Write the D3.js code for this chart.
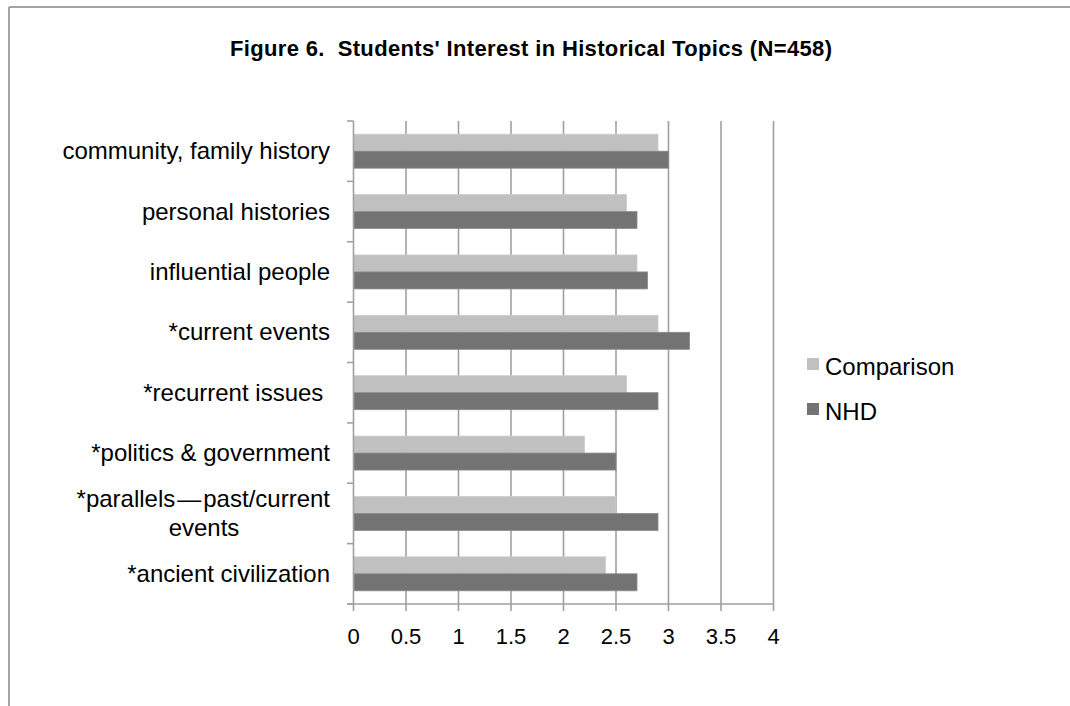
<!DOCTYPE html>
<html>
<head>
<meta charset="utf-8">
<script src="https://cdn.jsdelivr.net/npm/d3@7"></script>
<style>
  html, body { margin: 0; padding: 0; background: #fff; }
  svg { display: block; }
  text { font-family: "Liberation Sans", Arial, Helvetica, sans-serif; fill: #000; }
</style>
</head>
<body>
<svg id="chart" width="1070" height="706"></svg>
<script>
const categories = [
  "community, family history",
  "personal histories",
  "influential people",
  "*current events",
  "*recurrent issues ",
  "*politics & government",
  "*parallels\u200A\u2014\u200Apast/current|events",
  "*ancient civilization"
];
const seriesNames = ["Comparison", "NHD"];
const comparison = [2.9, 2.6, 2.7, 2.9, 2.6, 2.2, 2.5, 2.4];
const nhd = [3.0, 2.7, 2.8, 3.2, 2.9, 2.5, 2.9, 2.7];
const xTicks = [0, 0.5, 1, 1.5, 2, 2.5, 3, 3.5, 4];
const colors = ["#c0c0c0", "#737373"];
const titleText = "Figure 6.  Students' Interest in Historical Topics (N=458)";

const svg = d3.select("#chart");
const W = 1070, H = 706;

// outer frame (top + left)
svg.append("line").attr("x1", 9).attr("x2", W).attr("y1", 7).attr("y2", 7)
  .attr("stroke", "#a3a3a3").attr("stroke-width", 2);
svg.append("line").attr("x1", 9).attr("x2", 9).attr("y1", 7).attr("y2", H)
  .attr("stroke", "#a3a3a3").attr("stroke-width", 2);

// title
svg.append("text").attr("x", 531).attr("y", 56)
  .attr("text-anchor", "middle")
  .style("font-weight", "bold").style("font-size", "22px")
  .style("white-space", "pre")
  .attr("textLength", 602).attr("lengthAdjust", "spacing")
  .text(titleText);

const x = d3.scaleLinear().domain([0, 4]).range([353.5, 773.5]);
const y0 = d3.scaleBand().domain(d3.range(categories.length)).range([121, 604]).paddingInner(0).paddingOuter(0);
const y1 = d3.scaleBand().domain([0, 1]).range([13.2, y0.bandwidth() - 13.2]);

// gridlines with tick extensions below axis
const grid = svg.append("g");
grid.selectAll("line").data(xTicks.slice(1)).join("line")
  .attr("x1", d => x(d)).attr("x2", d => x(d))
  .attr("y1", 121).attr("y2", 611)
  .attr("stroke", "#a0a0a0").attr("stroke-width", 1.6);

// bars
const data = categories.map((c, i) => ({ i, vals: [comparison[i], nhd[i]] }));
const groups = svg.append("g").selectAll("g").data(data).join("g")
  .attr("transform", d => `translate(0,${y0(d.i)})`);
groups.selectAll("rect").data(d => d.vals.map((v, k) => ({ v, k }))).join("rect")
  .attr("x", x(0)).attr("y", d => y1(d.k))
  .attr("width", d => x(d.v) - x(0))
  .attr("height", y1.bandwidth())
  .attr("fill", d => colors[d.k])
  .attr("stroke", d => d.k === 0 ? "#cdcdcd" : "#8a8a8a")
  .attr("stroke-width", 0.8);

// x axis line + vertical axis
svg.append("line").attr("x1", 347).attr("x2", x(4)).attr("y1", 604).attr("y2", 604)
  .attr("stroke", "#a0a0a0").attr("stroke-width", 1.6);
svg.append("line").attr("x1", x(0)).attr("x2", x(0)).attr("y1", 121).attr("y2", 611)
  .attr("stroke", "#a0a0a0").attr("stroke-width", 1.6);

// y ticks
const yTickPos = d3.range(categories.length + 1).map(i => 121 + i * y0.bandwidth());
svg.append("g").selectAll("line").data(yTickPos).join("line")
  .attr("x1", 347).attr("x2", x(0)).attr("y1", d => d).attr("y2", d => d)
  .attr("stroke", "#a0a0a0").attr("stroke-width", 1.6);

// x tick labels
svg.append("g").selectAll("text").data(xTicks).join("text")
  .attr("x", d => x(d)).attr("y", 644)
  .attr("text-anchor", "middle").style("font-size", "22px")
  .text(d => d3.format("")(d));

// category labels
const lab = svg.append("g").selectAll("text").data(categories).join("text")
  .attr("text-anchor", "end").style("font-size", "24px")
  .style("white-space", "pre")
  .attr("transform", (d, i) => `translate(330,${y0(i) + y0.bandwidth() / 2 + 8})`);
lab.each(function(d) {
  const parts = d.split("|");
  const t = d3.select(this);
  if (parts.length === 1) {
    t.text(d);
  } else {
    t.append("tspan").attr("x", 0).attr("y", -14).text(parts[0]);
    t.append("tspan").attr("x", -126).attr("y", 15).attr("text-anchor", "middle").text(parts[1]);
  }
});

// legend
const leg = svg.append("g").selectAll("g").data(seriesNames).join("g")
  .attr("transform", (d, i) => `translate(807,${358 + i * 45})`);
leg.append("rect").attr("width", 12).attr("height", 12).attr("fill", (d, i) => colors[i]);
leg.append("text").attr("x", 18).attr("y", 17).style("font-size", "24px").text(d => d);
</script>
</body>
</html>
